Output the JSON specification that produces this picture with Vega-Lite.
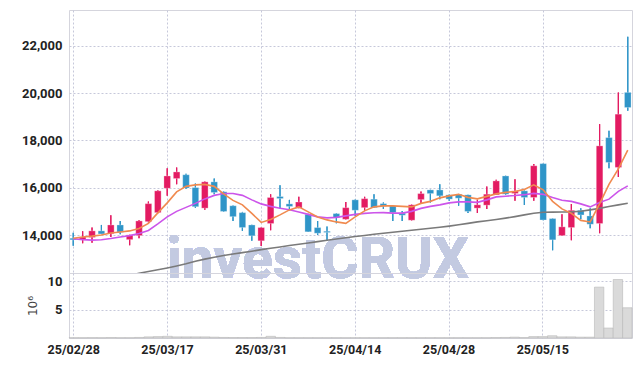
{
  "$schema": "https://vega.github.io/schema/vega-lite/v6.json",
  "background": "white",
  "padding": {"left": 21, "right": 9, "top": 9, "bottom": 5},
  "spacing": 0,
  "bounds": "flush",
  "config": {
    "view": {"stroke": "#d5d5dd", "strokeWidth": 1},
    "font": "Roboto",
    "axis": {
      "labelFont": "Roboto",
      "labelFontWeight": "bold",
      "labelFontSize": 13,
      "labelColor": "#222222",
      "domain": false,
      "ticks": false,
      "gridColor": "#c6c8da",
      "gridDash": [2, 2],
      "gridWidth": 1
    }
  },
  "datasets": {
    "k": [
      {"d": "25/02/28", "o": 13870, "h": 14100, "l": 13550, "c": 13800, "m5": 13869, "m20": 13848, "m60": 11682, "v": 0.05},
      {"d": "25/03/04", "o": 13810, "h": 14160, "l": 13660, "c": 13920, "m5": 13924, "m20": 13810, "m60": 11788, "v": 0.05},
      {"d": "25/03/05", "o": 13900, "h": 14320, "l": 13680, "c": 14180, "m5": 13958, "m20": 13788, "m60": 11893, "v": 0.06},
      {"d": "25/03/06", "o": 14180, "h": 14430, "l": 14040, "c": 14050, "m5": 14008, "m20": 13805, "m60": 11999, "v": 0.05},
      {"d": "25/03/07", "o": 14060, "h": 14840, "l": 13920, "c": 14430, "m5": 14093, "m20": 13860, "m60": 12105, "v": 0.08},
      {"d": "25/03/10", "o": 14430, "h": 14600, "l": 14040, "c": 14120, "m5": 14135, "m20": 13924, "m60": 12202, "v": 0.05},
      {"d": "25/03/11", "o": 13810, "h": 14020, "l": 13570, "c": 14010, "m5": 14178, "m20": 13979, "m60": 12295, "v": 0.05},
      {"d": "25/03/12", "o": 13980, "h": 14640, "l": 13870, "c": 14600, "m5": 14283, "m20": 14072, "m60": 12388, "v": 0.1},
      {"d": "25/03/13", "o": 14570, "h": 15420, "l": 14530, "c": 15330, "m5": 14495, "m20": 14199, "m60": 12465, "v": 0.2},
      {"d": "25/03/14", "o": 14950, "h": 15900, "l": 14920, "c": 15870, "m5": 14939, "m20": 14474, "m60": 12536, "v": 0.25},
      {"d": "25/03/17", "o": 15980, "h": 16830, "l": 15660, "c": 16500, "m5": 15362, "m20": 14770, "m60": 12613, "v": 0.3},
      {"d": "25/03/18", "o": 16390, "h": 16860, "l": 16150, "c": 16670, "m5": 15827, "m20": 15003, "m60": 12697, "v": 0.2},
      {"d": "25/03/19", "o": 16550, "h": 16590, "l": 15950, "c": 15990, "m5": 16060, "m20": 15172, "m60": 12790, "v": 0.2},
      {"d": "25/03/20", "o": 16010, "h": 16180, "l": 15150, "c": 15200, "m5": 16123, "m20": 15341, "m60": 12900, "v": 0.2},
      {"d": "25/03/21", "o": 15140, "h": 16260, "l": 15070, "c": 16250, "m5": 16145, "m20": 15531, "m60": 12985, "v": 0.2},
      {"d": "25/03/24", "o": 16250, "h": 16390, "l": 15730, "c": 15800, "m5": 16060, "m20": 15679, "m60": 13065, "v": 0.15},
      {"d": "25/03/25", "o": 15830, "h": 15840, "l": 14990, "c": 15000, "m5": 15743, "m20": 15760, "m60": 13137, "v": 0.1},
      {"d": "25/03/26", "o": 15240, "h": 15250, "l": 14600, "c": 14780, "m5": 15468, "m20": 15760, "m60": 13201, "v": 0.08},
      {"d": "25/03/27", "o": 14950, "h": 14980, "l": 14180, "c": 14320, "m5": 15277, "m20": 15679, "m60": 13260, "v": 0.08},
      {"d": "25/03/28", "o": 14430, "h": 14440, "l": 13760, "c": 13970, "m5": 14918, "m20": 15489, "m60": 13319, "v": 0.08},
      {"d": "25/03/31", "o": 13760, "h": 14330, "l": 13540, "c": 14320, "m5": 14537, "m20": 15320, "m60": 13387, "v": 0.1},
      {"d": "25/04/01", "o": 14490, "h": 15730, "l": 14210, "c": 15590, "m5": 14664, "m20": 15214, "m60": 13446, "v": 0.3},
      {"d": "25/04/02", "o": 15630, "h": 16110, "l": 15120, "c": 15545, "m5": 14854, "m20": 15138, "m60": 13501, "v": 0.1},
      {"d": "25/04/03", "o": 15320, "h": 15490, "l": 15050, "c": 15210, "m5": 15066, "m20": 15074, "m60": 13560, "v": 0.05},
      {"d": "25/04/04", "o": 15140, "h": 15620, "l": 15130, "c": 15400, "m5": 15193, "m20": 14981, "m60": 13615, "v": 0.05},
      {"d": "25/04/07", "o": 14880, "h": 14900, "l": 14130, "c": 14140, "m5": 14981, "m20": 14876, "m60": 13670, "v": 0.05},
      {"d": "25/04/08", "o": 14320, "h": 14600, "l": 14000, "c": 14080, "m5": 14770, "m20": 14770, "m60": 13725, "v": 0.05},
      {"d": "25/04/09", "o": 14165, "h": 14360, "l": 13760, "c": 14110, "m5": 14643, "m20": 14728, "m60": 13780, "v": 0.05},
      {"d": "25/04/10", "o": 14910, "h": 14920, "l": 14500, "c": 14740, "m5": 14558, "m20": 14749, "m60": 13835, "v": 0.05},
      {"d": "25/04/11", "o": 14670, "h": 15400, "l": 14660, "c": 15160, "m5": 14495, "m20": 14812, "m60": 13890, "v": 0.05},
      {"d": "25/04/14", "o": 15490, "h": 15500, "l": 14810, "c": 15050, "m5": 14770, "m20": 14876, "m60": 13941, "v": 0.05},
      {"d": "25/04/15", "o": 15160, "h": 15620, "l": 15020, "c": 15540, "m5": 15024, "m20": 14918, "m60": 13987, "v": 0.05},
      {"d": "25/04/16", "o": 15520, "h": 15730, "l": 15150, "c": 15160, "m5": 15193, "m20": 14948, "m60": 14034, "v": 0.05},
      {"d": "25/04/17", "o": 15330, "h": 15380, "l": 15100, "c": 15220, "m5": 15235, "m20": 14952, "m60": 14080, "v": 0.05},
      {"d": "25/04/18", "o": 15235, "h": 15240, "l": 14600, "c": 14950, "m5": 15235, "m20": 14931, "m60": 14123, "v": 0.05},
      {"d": "25/04/21", "o": 14930, "h": 15020, "l": 14600, "c": 14840, "m5": 15214, "m20": 14931, "m60": 14165, "v": 0.05},
      {"d": "25/04/22", "o": 14630, "h": 15290, "l": 14620, "c": 15280, "m5": 15193, "m20": 15003, "m60": 14207, "v": 0.05},
      {"d": "25/04/23", "o": 15500, "h": 15840, "l": 15310, "c": 15755, "m5": 15341, "m20": 15129, "m60": 14250, "v": 0.05},
      {"d": "25/04/24", "o": 15910, "h": 15920, "l": 15380, "c": 15755, "m5": 15426, "m20": 15214, "m60": 14292, "v": 0.05},
      {"d": "25/04/25", "o": 15910, "h": 16150, "l": 15520, "c": 15660, "m5": 15574, "m20": 15277, "m60": 14334, "v": 0.05},
      {"d": "25/04/28", "o": 15700, "h": 15720, "l": 15450, "c": 15520, "m5": 15658, "m20": 15362, "m60": 14381, "v": 0.05},
      {"d": "25/04/29", "o": 15730, "h": 15740, "l": 15240, "c": 15560, "m5": 15722, "m20": 15404, "m60": 14436, "v": 0.05},
      {"d": "25/04/30", "o": 15700, "h": 15710, "l": 14930, "c": 15000, "m5": 15595, "m20": 15404, "m60": 14495, "v": 0.05},
      {"d": "25/05/02", "o": 15140, "h": 15490, "l": 14930, "c": 15280, "m5": 15531, "m20": 15383, "m60": 14558, "v": 0.05},
      {"d": "25/05/07", "o": 15265, "h": 16050, "l": 15100, "c": 15730, "m5": 15637, "m20": 15489, "m60": 14609, "v": 0.05},
      {"d": "25/05/08", "o": 15700, "h": 16340, "l": 15690, "c": 16290, "m5": 15743, "m20": 15616, "m60": 14660, "v": 0.08},
      {"d": "25/05/09", "o": 16500, "h": 16510, "l": 15700, "c": 15730, "m5": 15806, "m20": 15645, "m60": 14719, "v": 0.1},
      {"d": "25/05/12", "o": 15760, "h": 16360, "l": 15450, "c": 15870, "m5": 15840, "m20": 15671, "m60": 14783, "v": 0.15},
      {"d": "25/05/13", "o": 15870, "h": 15880, "l": 15270, "c": 15590, "m5": 15933, "m20": 15709, "m60": 14854, "v": 0.08},
      {"d": "25/05/14", "o": 15590, "h": 17000, "l": 15450, "c": 16930, "m5": 16123, "m20": 15764, "m60": 14922, "v": 0.25},
      {"d": "25/05/15", "o": 17020, "h": 17030, "l": 14630, "c": 14640, "m5": 15912, "m20": 15722, "m60": 14969, "v": 0.25},
      {"d": "25/05/16", "o": 14700, "h": 14700, "l": 13360, "c": 13800, "m5": 15426, "m20": 15586, "m60": 14973, "v": 0.4},
      {"d": "25/05/19", "o": 13980, "h": 14880, "l": 13970, "c": 14350, "m5": 15108, "m20": 15476, "m60": 14977, "v": 0.2},
      {"d": "25/05/20", "o": 14320, "h": 15310, "l": 13780, "c": 15050, "m5": 14918, "m20": 15426, "m60": 14981, "v": 0.2},
      {"d": "25/05/21", "o": 15050, "h": 15140, "l": 14670, "c": 14855, "m5": 14622, "m20": 15320, "m60": 15011, "v": 0.15},
      {"d": "25/05/22", "o": 14810, "h": 15140, "l": 14290, "c": 14460, "m5": 14558, "m20": 15193, "m60": 15066, "v": 0.15},
      {"d": "25/05/23", "o": 14490, "h": 18690, "l": 14080, "c": 17770, "m5": 15320, "m20": 15375, "m60": 15129, "v": 9.0},
      {"d": "25/05/26", "o": 18120, "h": 18410, "l": 16830, "c": 17070, "m5": 16145, "m20": 15519, "m60": 15206, "v": 1.76},
      {"d": "25/05/27", "o": 16860, "h": 20030, "l": 16460, "c": 19110, "m5": 16800, "m20": 15849, "m60": 15277, "v": 10.35},
      {"d": "25/05/28", "o": 20030, "h": 22380, "l": 19250, "c": 19390, "m5": 17591, "m20": 16081, "m60": 15349, "v": 5.35}
    ]
  },
  "vconcat": [
    {
      "width": 563,
      "height": 263,
      "data": {"name": "k"},
      "encoding": {
        "x": {
          "field": "d", "type": "ordinal", "sort": null,
          "scale": {"paddingInner": 0.3, "paddingOuter": 0.1},
          "axis": {"title": null, "labels": false, "grid": true, "bandPosition": 0.5,
                   "values": ["25/02/28", "25/03/17", "25/03/31", "25/04/14", "25/04/28", "25/05/15"]}
        }
      },
      "layer": [
        {
          "mark": {"type": "rule", "strokeWidth": 1.2},
          "encoding": {
            "y": {"field": "l", "type": "quantitative", "scale": {"domain": [12400, 23510], "nice": false, "zero": false},
                  "axis": {"title": null, "format": ",.0f", "values": [14000, 16000, 18000, 20000, 22000], "labelPadding": 7, "grid": true}},
            "y2": {"field": "h"},
            "color": {"condition": {"test": "datum.c >= datum.o", "value": "#e31b62"}, "value": "#2f95c8"}
          }
        },
        {
          "mark": {"type": "text", "font": "Roboto", "fontWeight": "bold", "fontSize": 57, "fill": "#c3cae1", "opacity": 0.85, "align": "center", "baseline": "alphabetic"},
          "encoding": {
            "x": {"datum": "25/04/08", "type": "ordinal"},
            "y": {"datum": 12190, "type": "quantitative"},
            "text": {"value": "investCRUX"}
          }
        },
        {
          "mark": {"type": "rule", "strokeWidth": 1.2},
          "encoding": {
            "y": {"field": "l", "type": "quantitative"},
            "y2": {"field": "h"},
            "color": {"condition": {"test": "datum.c >= datum.o", "value": "#e31b62"}, "value": "#2f95c8"}
          }
        },
        {
          "mark": {"type": "bar", "stroke": "white", "strokeOpacity": 0.35, "strokeWidth": 0.8},
          "encoding": {
            "y": {"field": "o", "type": "quantitative"},
            "y2": {"field": "c"},
            "color": {"condition": {"test": "datum.c >= datum.o", "value": "#e31b62"}, "value": "#2f95c8"}
          }
        },
        {
          "mark": {"type": "line", "color": "#7a7a7a", "strokeWidth": 1.6, "clip": true},
          "encoding": {"y": {"field": "m60", "type": "quantitative"}}
        },
        {
          "mark": {"type": "line", "color": "#cc55ea", "strokeWidth": 1.6},
          "encoding": {"y": {"field": "m20", "type": "quantitative"}}
        },
        {
          "mark": {"type": "line", "color": "#f08a4f", "strokeWidth": 1.6},
          "encoding": {"y": {"field": "m5", "type": "quantitative"}}
        }
      ]
    },
    {
      "width": 563,
      "height": 65,
      "data": {"name": "k"},
      "mark": {"type": "bar", "fill": "#dadada", "stroke": "#b8b8b8", "strokeWidth": 0.6},
      "encoding": {
        "x": {
          "field": "d", "type": "ordinal", "sort": null,
          "scale": {"paddingInner": 0, "paddingOuter": 0},
          "axis": {"title": null, "grid": true, "bandPosition": 0.5, "labelAngle": 0, "labelPadding": 5, "labelFontSize": 12.5,
                   "values": ["25/02/28", "25/03/17", "25/03/31", "25/04/14", "25/04/28", "25/05/15"]}
        },
        "y": {
          "field": "v", "type": "quantitative", "scale": {"domain": [0, 11.5], "nice": false},
          "axis": {"title": "10⁶", "values": [5, 10], "grid": true, "labelPadding": 7, "titleFont": "DejaVu Sans", "titleFontWeight": "normal", "titleFontSize": 12, "titleColor": "#444444", "titlePadding": 8}
        }
      }
    }
  ]
}
